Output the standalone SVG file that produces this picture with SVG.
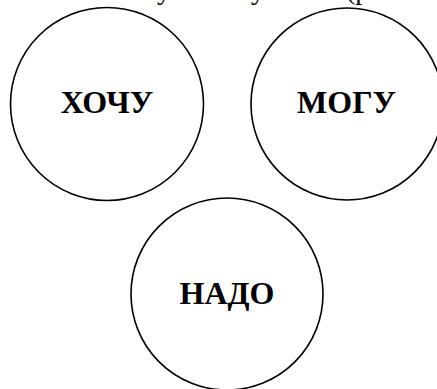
<svg xmlns="http://www.w3.org/2000/svg" width="437" height="389" viewBox="0 0 437 389">
  <style>
    .ring { fill: none; stroke: #000; stroke-width: 1.6; }
    .label { font-family: "Liberation Serif", "Times New Roman", serif; font-weight: bold; font-size: 32px; text-anchor: middle; fill: #000; }
    .line-above { font-family: "Liberation Serif", "Times New Roman", serif; font-size: 28px; fill: #000; }
  </style>
  <rect width="437" height="389" fill="#fff"/>
  <!-- tail of the preceding text line, cut by the top edge -->
  <g id="text-above">
    <text class="line-above" x="157" y="-1">у</text>
    <text class="line-above" x="251" y="-1">у</text>
    <text class="line-above" x="346" y="-1">(р</text>
  </g>
  <g id="node-hochu">
    <circle class="ring" cx="107" cy="104" r="96.5"/>
    <text class="label" x="107" y="112.5">ХОЧУ</text>
  </g>
  <g id="node-mogu">
    <circle class="ring" cx="347" cy="104" r="96"/>
    <text class="label" x="346.5" y="112.5">МОГУ</text>
  </g>
  <g id="node-nado">
    <circle class="ring" cx="227" cy="294" r="96"/>
    <text class="label" x="227" y="304">НАДО</text>
  </g>
  <g id="connectors"/>
</svg>
